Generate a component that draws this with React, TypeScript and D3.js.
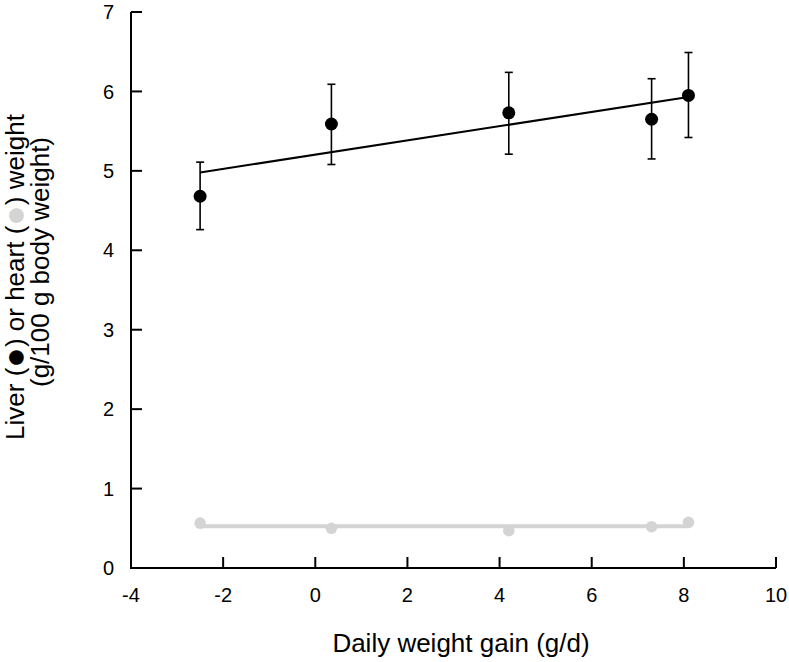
import React from "react";
import * as d3 from "d3";

const gain = [-2.5, 0.35, 4.2, 7.3, 8.1];
const liver = [4.68, 5.59, 5.73, 5.65, 5.95];
const liverLo = [4.26, 5.08, 5.21, 5.15, 5.42];
const liverHi = [5.11, 6.09, 6.24, 6.16, 6.49];
const heart = [0.565, 0.5, 0.47, 0.52, 0.575];
const liverFit = [4.98, 5.93];
const heartFit = [0.525, 0.525];
const fitX = [-2.5, 8.1];
const xTicks = [-4, -2, 0, 2, 4, 6, 8, 10];
const yTicks = [0, 1, 2, 3, 4, 5, 6, 7];

const W = 789, H = 662;
const left = 131, right = 776, top = 12, bottom = 568;
const font = "'Liberation Sans', Arial, Helvetica, sans-serif";

export default function App() {
  const x = d3.scaleLinear().domain([-4, 10]).range([left, right]);
  const y = d3.scaleLinear().domain([0, 7]).range([bottom, top]);
  const line = d3.line<[number, number]>().x(d => x(d[0])).y(d => y(d[1]));
  const lf: [number, number][] = fitX.map((v, i) => [v, liverFit[i]]);
  const hf: [number, number][] = fitX.map((v, i) => [v, heartFit[i]]);
  return (
    <svg width={W} height={H} style={{ position: "absolute", left: 0, top: 0, background: "#fff" }} fontFamily={font}>
      {/* heart */}
      <path d={line(hf) || ""} stroke="#d4d4d4" strokeWidth={4} fill="none" />
      {gain.map((g, i) => (
        <circle key={"h" + i} cx={x(g)} cy={y(heart[i])} r={5.8} fill="#d4d4d4" />
      ))}
      {/* liver */}
      <path d={line(lf) || ""} stroke="#000" strokeWidth={2} fill="none" />
      {gain.map((g, i) => (
        <g key={"l" + i} stroke="#000" strokeWidth={1.6}>
          <line x1={x(g)} x2={x(g)} y1={y(liverLo[i])} y2={y(liverHi[i])} />
          <line x1={x(g) - 4} x2={x(g) + 4} y1={y(liverLo[i])} y2={y(liverLo[i])} />
          <line x1={x(g) - 4} x2={x(g) + 4} y1={y(liverHi[i])} y2={y(liverHi[i])} />
        </g>
      ))}
      {gain.map((g, i) => (
        <circle key={"c" + i} cx={x(g)} cy={y(liver[i])} r={6.5} fill="#000" />
      ))}
      {/* axes */}
      <path d={`M${left},${top}V${bottom}H${right}`} stroke="#000" strokeWidth={2} fill="none" />
      {yTicks.map(t => (
        <g key={"yt" + t}>
          <line x1={left} x2={left + 11} y1={y(t)} y2={y(t)} stroke="#000" strokeWidth={2} />
          <text x={114} y={y(t)} dy="0.36em" textAnchor="end" fontSize={20}>{t}</text>
        </g>
      ))}
      {xTicks.map(t => (
        <g key={"xt" + t}>
          <line x1={x(t)} x2={x(t)} y1={bottom} y2={bottom - 11} stroke="#000" strokeWidth={2} />
          <text x={x(t)} y={602} textAnchor="middle" fontSize={20}>{t}</text>
        </g>
      ))}
      <text x={461} y={652} textAnchor="middle" fontSize={26}>Daily weight gain (g/d)</text>
      <g transform="translate(24,277) rotate(-90)">
        <text x={0} y={0} textAnchor="middle" fontSize={26}>
          {"Liver ("}
          <tspan fill="#000" fontSize={34} dy={2}>{"\u25CF"}</tspan>
          <tspan dy={-2}>{") or heart ("}</tspan>
          <tspan fill="#d4d4d4" fontSize={34} dy={2}>{"\u25CF"}</tspan>
          <tspan dy={-2}>{") weight"}</tspan>
        </text>
      </g>
      <g transform="translate(49,262) rotate(-90)">
        <text x={0} y={0} textAnchor="middle" fontSize={26}>(g/100 g body weight)</text>
      </g>
    </svg>
  );
}
